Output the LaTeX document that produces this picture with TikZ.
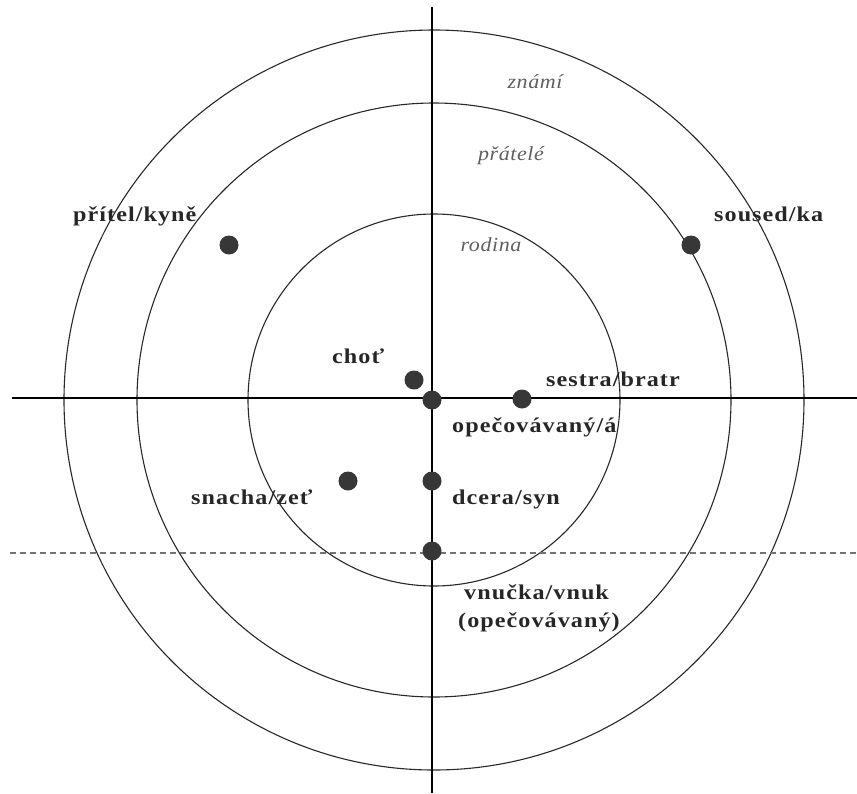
\documentclass[tikz,border=0pt]{standalone}
\usepackage{fontspec}
\setmainfont{Liberation Serif}
\newfontfamily\labfont[FakeStretch=1.15,LetterSpace=5]{Liberation Serif}
\newfontfamily\zonefont[FakeStretch=1.1,LetterSpace=3]{Liberation Serif}
\definecolor{dotc}{RGB}{55,55,55}
\definecolor{ringc}{RGB}{40,40,40}
\definecolor{zonec}{RGB}{95,95,95}
\begin{document}
\begin{tikzpicture}[x=1pt,y=-1pt,
  dotnode/.style={circle,fill=dotc,inner sep=0pt,minimum size=19pt},
  lab/.style={font=\labfont\bfseries\fontsize{21}{24}\selectfont,text=black!85,inner sep=0pt,anchor=base west},
  zone/.style={font=\zonefont\itshape\fontsize{20}{24}\selectfont,text=zonec,inner sep=0pt},
  ring/.style={draw=ringc,line width=1.1pt},
  axis/.style={draw=black,line width=1.2pt},
  sep/.style={draw=black!55,line width=1.3pt,dash pattern=on 6pt off 4pt}]
\useasboundingbox (0,0) rectangle (857,793);
% rings
\coordinate (c) at (434,400);
\draw[ring] (c) circle[radius=370];
\draw[ring] (c) circle[radius=297];
\draw[ring] (c) circle[radius=186];
% axes
\coordinate (hl) at (12,398);
\coordinate (hr) at (857,398);
\coordinate (vt) at (432,7);
\coordinate (vb) at (432,793);
\draw[axis] (hl) -- (hr);
\draw[axis] (vt) -- (vb);
\coordinate (dl) at (10,553);
\coordinate (dr) at (857,553);
\draw[sep] (dl) -- (dr);
% zone labels
\node[zone] (znami) at (535,82) {známí};
\node[zone] (pratele) at (511,156) {přátelé};
\node[zone] (rodina) at (491,245) {rodina};
% dots
\node[dotnode] (d1) at (229,245) {};
\node[dotnode] (d2) at (691,245) {};
\node[dotnode] (d3) at (414,380) {};
\node[dotnode] (d4) at (432,400) {};
\node[dotnode] (d5) at (522,399) {};
\node[dotnode] (d6) at (348,481) {};
\node[dotnode] (d7) at (432,481) {};
\node[dotnode] (d8) at (432,551) {};
% labels
\node[lab] (t1) at (73,221) {přítel/kyně};
\node[lab] (t2) at (714,221) {soused/ka};
\node[lab] (t3) at (332,363) {choť};
\node[lab] (t5) at (546,386) {sestra/bratr};
\node[lab] (t4) at (452,432) {opečovávaný/á};
\node[lab] (t6) at (191,504) {snacha/zeť};
\node[lab] (t7) at (452,504) {dcera/syn};
\node[lab] (t8) at (464,599) {vnučka/vnuk};
\node[lab] (t9) at (458,627) {(opečovávaný)};
\end{tikzpicture}
\end{document}
